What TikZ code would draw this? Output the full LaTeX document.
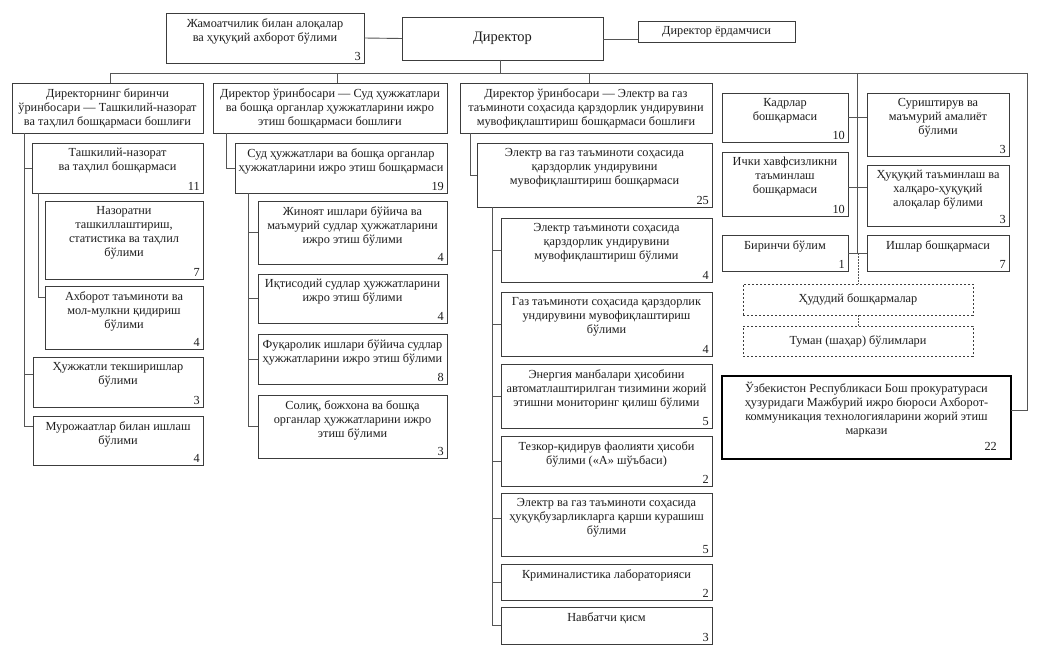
\documentclass[tikz,border=0pt]{standalone}
\usepackage{fontspec}
\setmainfont{Liberation Serif}
\usetikzlibrary{calc}
\definecolor{boxc}{HTML}{3C3C3C}
\definecolor{linec}{HTML}{555555}
\definecolor{txtc}{HTML}{1E1E1E}
\tikzset{
  bx/.style={draw=boxc, line width=0.9pt, rectangle, inner sep=0pt, outer sep=0pt},
  dbx/.style={dash pattern=on 2.2pt off 1.8pt},
  tbx/.style={draw=black, line width=2pt},
  txt/.style={font=\fontsize{12.3}{14}\selectfont, align=center, inner sep=0pt, text=txtc},
  num/.style={font=\fontsize{12.3}{14}\selectfont, inner sep=0pt, text=txtc},
  ln/.style={draw=linec, line width=0.9pt},
  dl/.style={draw=linec, line width=0.9pt, dash pattern=on 1.5pt off 1.5pt},
}
% #1 extra style, #2 name, #3 x1, #4 y1, #5 x2, #6 y2, #7 text, #8 number
\newcommand\OB[8][]{%
  \node[bx,#1,minimum width={(#5-#3)*1pt},minimum height={(#6-#4)*1pt}] (#2) at ({(#3+#5)/2},{(#4+#6)/2}) {};
  \node[txt,anchor=north] (#2-t) at ([yshift=-5pt]#2.north) {#7};
  \node[num,anchor=south east] (#2-n) at ([xshift=-3pt,yshift=2.5pt]#2.south east) {#8};
}
\begin{document}
\begin{tikzpicture}[x=1pt,y=-1pt]
\useasboundingbox[fill=white] (0,0) rectangle (1043,663);

% top row
\OB{pub}{166}{13}{364}{63}{Жамоатчилик билан алоқалар\\ва ҳуқуқий ахборот бўлими}{3}
\node[bx,minimum width=201pt,minimum height=43pt,txt,font=\fontsize{14.5}{16}\selectfont] (dir) at (502.5,38.5) {Директор};
\node[bx,minimum width=157pt,minimum height=21pt,txt] (asst) at (716.5,31.5) {Директор ёрдамчиси};

% second level
\OB{dep1}{12}{83}{203}{133}{Директорнинг биринчи\\ўринбосари — Ташкилий-назорат\\ва таҳлил бошқармаси бошлиғи}{}
\OB{dep2}{213}{83}{447}{133}{Директор ўринбосари — Суд ҳужжатлари\\ва бошқа органлар ҳужжатларини ижро\\этиш бошқармаси бошлиғи}{}
\OB{dep3}{460}{83}{712}{133}{Директор ўринбосари — Электр ва газ\\таъминоти соҳасида қарздорлик ундирувини\\мувофиқлаштириш бошқармаси бошлиғи}{}

% column 1
\OB{c1a}{32}{143}{203}{193}{Ташкилий-назорат\\ва таҳлил бошқармаси}{11}
\OB{c1a1}{45}{201}{203}{279}{Назоратни\\ташкиллаштириш,\\статистика ва таҳлил\\бўлими}{7}
\OB{c1a2}{45}{286}{203}{349}{Ахборот таъминоти ва\\мол-мулкни қидириш\\бўлими}{4}
\OB{c1b}{33}{357}{203}{407}{Ҳужжатли текширишлар\\бўлими}{3}
\OB{c1c}{33}{416}{203}{465}{Мурожаатлар билан ишлаш\\бўлими}{4}

% column 2
\OB{c2a}{235}{143}{447}{193}{Суд ҳужжатлари ва бошқа органлар\\ҳужжатларини ижро этиш бошқармаси}{19}
\OB{c2a1}{258}{201}{447}{264}{Жиноят ишлари бўйича ва\\маъмурий судлар ҳужжатларини\\ижро этиш бўлими}{4}
\OB{c2a2}{258}{274}{447}{323}{Иқтисодий судлар ҳужжатларини\\ижро этиш бўлими}{4}
\OB{c2a3}{258}{334}{447}{384}{Фуқаролик ишлари бўйича судлар\\ҳужжатларини ижро этиш бўлими}{8}
\OB{c2a4}{258}{395}{447}{458}{Солиқ, божхона ва бошқа\\органлар ҳужжатларини ижро\\этиш бўлими}{3}

% column 3
\OB{c3a}{477}{143}{712}{207}{Электр ва газ таъминоти соҳасида\\қарздорлик ундирувини\\мувофиқлаштириш бошқармаси}{25}
\OB{c3a1}{501}{218}{712}{282}{Электр таъминоти соҳасида\\қарздорлик ундирувини\\мувофиқлаштириш бўлими}{4}
\OB{c3a2}{501}{292}{712}{356}{Газ таъминоти соҳасида қарздорлик\\ундирувини мувофиқлаштириш\\бўлими}{4}
\OB{c3a3}{501}{364}{712}{428}{Энергия манбалари ҳисобини\\автоматлаштирилган тизимини жорий\\этишни мониторинг қилиш бўлими}{5}
\OB{c3a4}{501}{436}{712}{486}{Тезкор-қидирув фаолияти ҳисоби\\бўлими («А» шўъбаси)}{2}
\OB{c3a5}{501}{493}{712}{556}{Электр ва газ таъминоти соҳасида\\ҳуқуқбузарликларга қарши курашиш\\бўлими}{5}
\OB{c3a6}{501}{564}{712}{600}{Криминалистика лабораторияси}{2}
\OB{c3a7}{501}{607}{712}{644}{Навбатчи қисм}{3}

% right block
\OB{kadr}{722}{93}{848}{142}{Кадрлар\\бошқармаси}{10}
\OB{sur}{867}{93}{1009}{156}{Суриштирув ва\\маъмурий амалиёт\\бўлими}{3}
\OB{ichki}{722}{152}{848}{216}{Ички хавфсизликни\\таъминлаш\\бошқармаси}{10}
\OB{huq}{867}{165}{1009}{226}{Ҳуқуқий таъминлаш ва\\халқаро-ҳуқуқий\\алоқалар бўлими}{3}
\OB{bir}{722}{235}{848}{271}{Биринчи бўлим}{1}
\OB{ish}{867}{235}{1009}{271}{Ишлар бошқармаси}{7}
\node[bx,dbx,minimum width=230pt,minimum height=31pt,txt] (hud) at (858,299.5) {Ҳудудий бошқармалар};
\node[bx,dbx,minimum width=230pt,minimum height=30pt,txt] (tum) at (858,341) {Туман (шаҳар) бўлимлари};
\node[bx,tbx,minimum width=289pt,minimum height=83pt] (big) at (866.5,417.5) {};
\node[txt,anchor=north] (big-t) at ([yshift=-6pt]big.north) {Ўзбекистон Республикаси Бош прокуратураси\\ҳузуридаги Мажбурий ижро бюроси Ахборот-\\коммуникация технологияларини жорий этиш\\маркази};
\node[num,anchor=south east] (big-n) at ([xshift=-14pt,yshift=8pt]big.south east) {22};

% coordinates
\coordinate (busL) at (110,73);
\coordinate (busR) at (1027,73);
\coordinate (mv) at (857,73);
\coordinate (v1) at (24,133);
\coordinate (v1a) at (38,193);
\coordinate (v2) at (226,133);
\coordinate (v2a) at (248,193);
\coordinate (v3) at (470,133);
\coordinate (v3a) at (492,207);

% top connectors
\draw[ln] (pub.east) -- (dir.west);
\draw[ln] ([yshift=-0.5pt]dir.east) -- ([yshift=-0.5pt]dir.east -| asst.west);
\draw[ln] ([xshift=-2.5pt]dir.south) -- ([xshift=-2.5pt]dir.south |- busL);
\draw[ln] (busL) -- (busR);
\draw[ln] (busL) -- (busL |- dep1.north);
\draw[ln] ([xshift=7pt]dep2.north) -- ([xshift=7pt]dep2.north |- busL);
\draw[ln] ([xshift=3pt]dep3.north) -- ([xshift=3pt]dep3.north |- busL);
\draw[ln] (busR) |- ([yshift=7.5pt]big.east);

% column 1 connectors
\draw[ln] ([yshift=14pt]c1c.west) -| (v1);
\draw[ln] ([yshift=8pt]c1b.west) -| (v1);
\draw[ln] (c1a.west) -| (v1);
\draw[ln] ([yshift=20pt]c1a2.west) -| (v1a);

% column 2 connectors
\draw[ln] (c2a.west) -| (v2);
\foreach \n in {c2a1,c2a2,c2a3,c2a4} \draw[ln] (\n.west) -| (v2a);

% column 3 connectors
\draw[ln] (c3a.west) -| (v3);
\foreach \n in {c3a1,c3a2,c3a3,c3a4,c3a6,c3a7} \draw[ln] (\n.west) -| (v3a);
\draw[ln] ([yshift=6pt]c3a5.west) -| (v3a);

% right block connectors
\draw[ln] (mv) -- (mv |- bir.east);
\draw[ln] (kadr.east) -- (kadr.east -| sur.west);
\draw[ln] ([yshift=-3pt]ichki.east) -- ([yshift=-3pt]ichki.east -| huq.west);
\draw[ln] (bir.east) -- (ish.west);
\draw[dl] (hud.north |- bir.east) -- (hud.north);
\draw[dl] (hud.south) -- (tum.north);
\end{tikzpicture}
\end{document}
